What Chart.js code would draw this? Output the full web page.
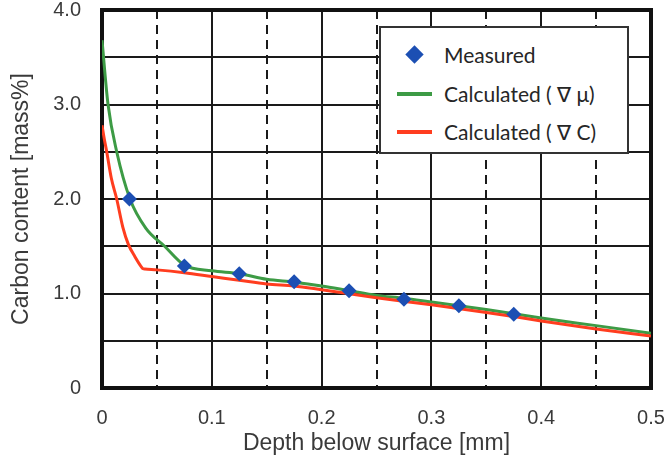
<!DOCTYPE html>
<html>
<head>
<meta charset="utf-8">
<script src="https://cdn.jsdelivr.net/npm/chart.js@4.4.1/dist/chart.umd.min.js"></script>
<style>
  html, body { margin: 0; padding: 0; background: #fff; }
  #wrap { position: relative; width: 669px; height: 469px; }
  #legend {
    position: absolute; left: 379px; top: 26px; width: 246px; height: 124px;
    border: 2px solid #333; background: #fff; box-sizing: content-box;
    font-family: Lato, "Open Sans", sans-serif; font-size: 21px; color: #262626;
  }
  .row { position: absolute; left: 0; height: 30px; display: flex; align-items: center; }
  .sym { position: absolute; left: 16px; width: 36px; height: 30px; }
  .txt { position: absolute; left: 63px; white-space: nowrap; line-height: 30px; }
</style>
</head>
<body>
<div id="wrap">
  <canvas id="c" width="669" height="469"></canvas>
  <div id="legend"></div>
</div>
<script>
// ---- data ----
const measuredDepth  = [0.025, 0.075, 0.125, 0.175, 0.225, 0.275, 0.325, 0.375];
const measuredCarbon = [2.00, 1.29, 1.21, 1.125, 1.03, 0.94, 0.87, 0.78];

const muDepth  = [0, 0.0055, 0.0134, 0.0255, 0.04, 0.057, 0.075, 0.1, 0.125, 0.15, 0.175, 0.2, 0.225, 0.25, 0.275, 0.3, 0.35, 0.4, 0.45, 0.5];
const muCarbon = [3.68, 3.0, 2.5, 2.0, 1.69, 1.5, 1.30, 1.24, 1.21, 1.15, 1.12, 1.08, 1.03, 0.98, 0.95, 0.91, 0.83, 0.74, 0.66, 0.58];

const cDepth  = [0, 0.002, 0.0043, 0.0085, 0.0134, 0.019, 0.024, 0.030, 0.036, 0.0375, 0.039, 0.05, 0.075, 0.1, 0.125, 0.15, 0.175, 0.2, 0.25, 0.3, 0.35, 0.4, 0.45, 0.5];
const cCarbon = [2.78, 2.64, 2.5, 2.22, 2.0, 1.70, 1.52, 1.39, 1.28, 1.262, 1.259, 1.25, 1.22, 1.18, 1.14, 1.10, 1.08, 1.04, 0.955, 0.88, 0.80, 0.71, 0.625, 0.55];

const seriesLabels = ['Measured', 'Calculated ( \u2207 \u03bc)', 'Calculated ( \u2207 C)'];
const xTickLabels = ['0', '0.1', '0.2', '0.3', '0.4', '0.5'];
const yTickLabels = ['0', '1.0', '2.0', '3.0', '4.0'];

const colMeasured = '#1c4fb3';
const colMu = '#3d9b45';
const colC = '#ff3d1f';

const toXY = (xs, ys) => xs.map((x, i) => ({ x: x, y: ys[i] }));

const isMajorX = v => Math.round(v * 100) % 10 === 0;

const zeroPad = (scale) => {
  scale.paddingLeft = 0; scale.paddingRight = 0;
  scale.paddingTop = 0; scale.paddingBottom = 0;
};

const framePlugin = {
  id: 'frame',
  beforeDatasetsDraw(chart) {
    const { ctx, chartArea: a } = chart;
    ctx.save();
    ctx.strokeStyle = '#111';
    ctx.lineWidth = 4;
    ctx.strokeRect(a.left, a.top, a.right - a.left, a.bottom - a.top);
    ctx.restore();
  }
};

const chart = new Chart(document.getElementById('c'), {
  type: 'scatter',
  data: {
    datasets: [
      {
        label: seriesLabels[0], data: toXY(measuredDepth, measuredCarbon),
        pointStyle: 'rectRot', pointRadius: 7.5, pointBackgroundColor: colMeasured,
        pointBorderColor: colMeasured, pointBorderWidth: 0, showLine: false, order: 0
      },
      {
        label: seriesLabels[1], data: toXY(muDepth, muCarbon), showLine: true,
        borderColor: colMu, borderWidth: 3, pointRadius: 0, cubicInterpolationMode: 'monotone', order: 2
      },
      {
        label: seriesLabels[2], data: toXY(cDepth, cCarbon), showLine: true,
        borderColor: colC, borderWidth: 3, pointRadius: 0, cubicInterpolationMode: 'monotone', order: 1
      }
    ]
  },
  options: {
    responsive: false,
    animation: false,
    devicePixelRatio: 1,
    layout: { padding: { top: 10, right: 18, left: 0, bottom: 0 } },
    plugins: { legend: { display: false }, tooltip: { enabled: false } },
    scales: {
      x: {
        type: 'linear', min: 0, max: 0.5,
        afterBuildTicks(scale) {
          scale.ticks = [];
          for (let i = 0; i <= 10; i++) scale.ticks.push({ value: i * 0.05 });
        },
        afterFit(scale) { scale.height = 81; zeroPad(scale); },
        ticks: {
          autoSkip: false, maxRotation: 0, padding: 18, color: '#3a3a3a',
          font: { family: '"Liberation Sans", Arial, sans-serif', size: 20 },
          callback: (v) => isMajorX(v) ? xTickLabels[Math.round(v * 10)] : ''
        },
        grid: { color: '#1a1a1a', lineWidth: 2, drawTicks: false },
        border: {
          display: false,
          dash: (ctx) => (ctx.tick && !isMajorX(ctx.tick.value)) ? [9, 6] : []
        },
        title: {
          display: true, text: 'Depth below surface [mm]', color: '#3a3a3a',
          font: { family: '"Liberation Sans", Arial, sans-serif', size: 23 },
          padding: { top: 0, bottom: 12 }
        }
      },
      y: {
        type: 'linear', min: 0, max: 4,
        ticks: {
          stepSize: 0.5, padding: 21, color: '#3a3a3a',
          font: { family: '"Liberation Sans", Arial, sans-serif', size: 20, lineHeight: 1 },
          callback: (v) => (Math.round(v * 10) % 10 === 0) ? yTickLabels[Math.round(v)] : ''
        },
        afterFit(scale) { scale.width = 102; zeroPad(scale); },
        grid: { color: '#1a1a1a', lineWidth: 2, drawTicks: false },
        border: { display: false },
        title: {
          display: true, text: 'Carbon content [mass%]', color: '#3a3a3a',
          font: { family: '"Liberation Sans", Arial, sans-serif', size: 23 },
          padding: { top: 8, bottom: 0 }
        }
      }
    }
  },
  plugins: [framePlugin]
});

// ---- HTML legend built from the datasets ----
const legend = document.getElementById('legend');
const rowTops = [12, 51, 89];
chart.data.datasets.forEach((ds, i) => {
  const row = document.createElement('div');
  row.className = 'row';
  row.style.top = rowTops[i] + 'px';
  const sym = document.createElement('div');
  sym.className = 'sym';
  if (i === 0) {
    const d = document.createElement('div');
    d.style.cssText = 'position:absolute;left:11px;top:8px;width:13px;height:13px;transform:rotate(45deg);background:' + ds.pointBackgroundColor;
    sym.appendChild(d);
  } else {
    const l = document.createElement('div');
    l.style.cssText = 'position:absolute;left:0;top:13px;width:35px;height:4px;background:' + ds.borderColor;
    sym.appendChild(l);
  }
  const t = document.createElement('div');
  t.className = 'txt';
  t.textContent = ds.label;
  row.appendChild(sym);
  row.appendChild(t);
  legend.appendChild(row);
});
</script>
</body>
</html>
